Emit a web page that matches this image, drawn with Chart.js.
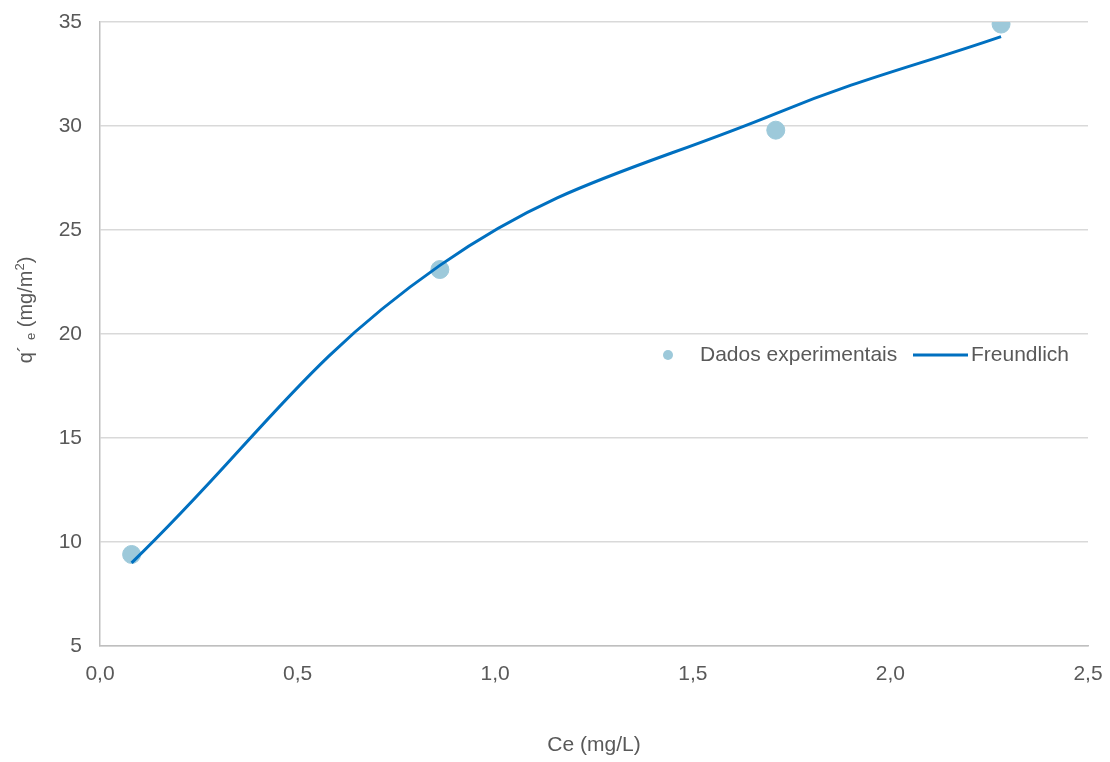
<!DOCTYPE html>
<html lang="pt">
<head>
  <meta charset="UTF-8" />
  <title>Isoterma de Freundlich</title>
  <script src="https://cdn.jsdelivr.net/npm/chart.js"></script>
  <style>
    body { margin:0; background:#fff; }
    #wrap { width:1110px; height:762px; }
  </style>
</head>
<body>
  <div id="wrap"><canvas id="c" width="1110" height="762"></canvas></div>
  <script>
    // dados
    const ceExp = [0.08, 0.86, 1.71, 2.28];
    const qeExp = [9.4, 23.1, 29.8, 34.9];
    const ceFit = [0.08, 0.86, 1.71, 2.28];
    const qeFit = [9.0, 23.3, 30.6, 34.3];
    const xTicks = [0, 0.5, 1.0, 1.5, 2.0, 2.5];
    const yTicks = [5, 10, 15, 20, 25, 30, 35];

    const txt = '#595959';
    const font = '"Liberation Sans", Arial, sans-serif';

    // legenda e título do eixo y desenhados à mão
    const extras = {
      id: 'extras',
      afterDraw(chart) {
        const g = chart.ctx;
        g.save();
        // legenda
        g.fillStyle = '#9dc9da';
        g.beginPath(); g.arc(668, 355, 5, 0, Math.PI*2); g.fill();
        g.fillStyle = txt;
        g.font = '21px ' + font;
        g.textBaseline = 'middle';
        g.fillText('Dados experimentais', 700, 355);
        g.strokeStyle = '#0070c0'; g.lineWidth = 3;
        g.beginPath(); g.moveTo(913, 355); g.lineTo(968, 355); g.stroke();
        g.fillText('Freundlich', 971, 355);
        // título y: q´e (mg/m²)
        g.translate(25, 310);
        g.rotate(-Math.PI/2);
        g.textBaseline = 'alphabetic';
        const parts = [['q´ ', 20, 0], ['e', 13, 3], [' (mg/m', 20, 0], ['2', 13, -8], [')', 20, 0]];
        let w = 0;
        parts.forEach(p => { g.font = p[1] + 'px ' + font; w += g.measureText(p[0]).width; });
        let x = -w/2;
        parts.forEach(p => {
          g.font = p[1] + 'px ' + font;
          g.fillText(p[0], x, 7 + p[2]);
          x += g.measureText(p[0]).width;
        });
        g.restore();
      }
    };

    new Chart(document.getElementById('c'), {
      type: 'scatter',
      data: {
        datasets: [
          {
            label: 'Dados experimentais',
            data: ceExp.map((x, i) => ({x, y: qeExp[i]})),
            backgroundColor: '#9dc9da', borderColor: '#9dc9da',
            pointRadius: 9, pointHoverRadius: 9, order: 2
          },
          {
            label: 'Freundlich',
            data: ceFit.map((x, i) => ({x, y: qeFit[i]})),
            showLine: true, tension: 0.4,
            borderColor: '#0070c0', borderWidth: 3, pointRadius: 0, order: 1
          }
        ]
      },
      options: {
        responsive: false, animation: false,
        layout: { padding: { top: 22, right: 22, left: 0, bottom: 0 } },
        plugins: { legend: { display: false }, tooltip: { enabled: false } },
        scales: {
          x: {
            type: 'linear', min: 0, max: 2.5,
            afterBuildTicks: s => { s.ticks = xTicks.map(v => ({value: v})); },
            afterFit: s => { s.height = 116; s.paddingLeft = 0; s.paddingRight = 0; },
            grid: { display: false, drawTicks: false },
            border: { color: '#bfbfbf', width: 1.5 },
            ticks: { padding: 16, color: txt, font: { size: 21, family: font },
                     callback: v => v.toFixed(1).replace('.', ',') },
            title: { display: true, text: 'Ce (mg/L)', color: txt,
                     font: { size: 21, family: font }, padding: { top: 37 } }
          },
          y: {
            min: 5, max: 35,
            afterBuildTicks: s => { s.ticks = yTicks.map(v => ({value: v})); },
            afterFit: s => { s.width = 100; s.paddingTop = 0; s.paddingBottom = 0; },
            grid: { color: '#d9d9d9', lineWidth: 1.5, drawTicks: false },
            border: { color: '#bfbfbf', width: 1.5 },
            ticks: { padding: 18, color: txt, font: { size: 21, family: font } }
          }
        }
      },
      plugins: [extras]
    });
  </script>
</body>
</html>
